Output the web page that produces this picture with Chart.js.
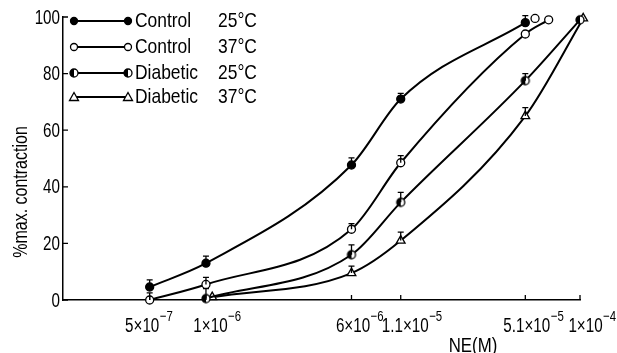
<!DOCTYPE html>
<html>
<head>
<meta charset="utf-8">
<script src="https://cdn.jsdelivr.net/npm/chart.js@4.4.0/dist/chart.umd.min.js"></script>
<style>
  html, body { margin: 0; padding: 0; background: #fff; }
  #wrap { width: 617px; height: 353px; }
</style>
</head>
<body>
<div id="wrap"><canvas id="nePlot" width="617" height="353"></canvas></div>
<script>
// NE concentrations (M) used as x tick positions; labels as mantissa + exponent
const xTickValues = [5e-7, 1e-6, 6e-6, 1.1e-5, 5.1e-5, 1e-4];
const xTickBase = ['5×10', '1×10', '6×10', '1.1×10', '5.1×10', '1×10'];
const xTickExp = ['−7', '−6', '−6', '−5', '−5', '−4'];
const yTickValues = [0, 20, 40, 60, 80, 100];

// Control 25°C (filled circles)
const control25X = [5e-7, 1e-6, 6e-6, 1.1e-5, 5.1e-5];
const control25Y = [4.6, 13, 47.7, 71, 98];
const control25Err = [2.5, 2.5, 2.5, 2, 2.5];

// Control 37°C (open circles)
const control37X = [5e-7, 1e-6, 6e-6, 1.1e-5, 5.1e-5, 6.8e-5];
const control37Y = [0, 5.5, 25, 48.5, 94, 99];
const control37Err = [2.5, 2.5, 2, 2.5, 0, 0];
// lone open circle next to the top control point
const control37ExtraX = [5.75e-5];
const control37ExtraY = [99.5];

// Diabetic 25°C (half filled circles)
const diabetic25X = [1e-6, 6e-6, 1.1e-5, 5.1e-5, 1e-4];
const diabetic25Y = [0.5, 16, 34.5, 77.5, 99];
const diabetic25Err = [3.5, 3.5, 3.5, 2.5, 0];

// Diabetic 37°C (open triangles)
const diabetic37X = [1.08e-6, 6e-6, 1.1e-5, 5.1e-5, 1.04e-4];
const diabetic37Y = [1, 9.5, 21, 65, 99.5];
const diabetic37Err = [0, 2.5, 3, 3, 0];

const FONT = '"Liberation Sans", Arial, sans-serif';
// the scan uses a condensed face, so text is squeezed horizontally
const TICK_SQUEEZE = 0.76;
const TEXT_SQUEEZE = 0.83;
// label shift to the right of each x tick, as in the figure
const xLabelShift = [-1, 11, 8, 11, 8, 12];

// half filled circle marker
function halfCircle(r) {
  const c = document.createElement('canvas');
  const s = r * 2 + 4;
  c.width = s; c.height = s;
  const g = c.getContext('2d');
  const m = s / 2;
  g.fillStyle = '#fff';
  g.beginPath(); g.arc(m, m, r, 0, Math.PI * 2); g.fill();
  g.fillStyle = '#000';
  g.beginPath(); g.arc(m, m, r, Math.PI / 2, Math.PI * 1.5); g.closePath(); g.fill();
  g.strokeStyle = '#000'; g.lineWidth = 1.3;
  g.beginPath(); g.arc(m, m, r, 0, Math.PI * 2); g.stroke();
  return c;
}
const halfMarker = halfCircle(4);

function pts(xs, ys) {
  return xs.map((x, i) => ({ x: x, y: ys[i] }));
}

function series(label, xs, ys, errs, style, fill, radius) {
  return {
    label: label,
    data: pts(xs, ys),
    errors: errs,
    borderColor: '#000',
    borderWidth: 2,
    cubicInterpolationMode: 'monotone',
    pointStyle: style,
    pointRadius: radius,
    pointBackgroundColor: fill,
    pointBorderColor: '#000',
    pointBorderWidth: 1.3,
    clip: false
  };
}

const datasets = [
  series('Control 25°C', control25X, control25Y, control25Err, 'circle', '#000', 4),
  series('Control 37°C', control37X, control37Y, control37Err, 'circle', '#fff', 4),
  series('Diabetic 25°C', diabetic25X, diabetic25Y, diabetic25Err, halfMarker, '#fff', 4),
  series('Diabetic 37°C', diabetic37X, diabetic37Y, diabetic37Err, 'triangle', '#fff', 5),
  Object.assign(series('extra', control37ExtraX, control37ExtraY, [0], 'circle', '#fff', 4), { showLine: false })
];

// error bars (upper half only, I shaped)
const errorBars = {
  id: 'errorBars',
  afterDatasetsDraw(chart) {
    const ctx = chart.ctx;
    const xs = chart.scales.x, ys = chart.scales.y;
    ctx.save();
    ctx.strokeStyle = '#000';
    ctx.lineWidth = 1.3;
    chart.data.datasets.forEach(ds => {
      (ds.errors || []).forEach((e, i) => {
        if (!e) return;
        const p = ds.data[i];
        const px = xs.getPixelForValue(p.x);
        const y0 = ys.getPixelForValue(p.y);
        const y1 = ys.getPixelForValue(p.y + e);
        ctx.beginPath();
        ctx.moveTo(px, y0); ctx.lineTo(px, y1);
        ctx.moveTo(px - 3, y1); ctx.lineTo(px + 3, y1);
        ctx.stroke();
      });
    });
    ctx.restore();
  }
};

function drawMarker(ctx, style, x, y) {
  ctx.lineWidth = 1.3;
  ctx.strokeStyle = '#000';
  if (style === 'filled' || style === 'open') {
    ctx.fillStyle = style === 'filled' ? '#000' : '#fff';
    ctx.beginPath(); ctx.arc(x, y, 3.5, 0, Math.PI * 2); ctx.fill(); ctx.stroke();
  } else if (style === 'half') {
    ctx.drawImage(halfMarker, x - halfMarker.width / 2, y - halfMarker.height / 2);
  } else {
    ctx.fillStyle = '#fff';
    ctx.beginPath();
    ctx.moveTo(x, y - 4.5); ctx.lineTo(x + 4.5, y + 3.5); ctx.lineTo(x - 4.5, y + 3.5);
    ctx.closePath(); ctx.fill(); ctx.stroke();
  }
}

// squeezed text helper
function squeezedText(ctx, text, x, y, align, sq) {
  ctx.save();
  ctx.translate(x, y);
  ctx.scale(sq, 1);
  ctx.textAlign = align;
  ctx.fillText(text, 0, 0);
  ctx.restore();
}

const legendRows = [
  { style: 'filled', name: 'Control', temp: '25°C', y: 21 },
  { style: 'open', name: 'Control', temp: '37°C', y: 47 },
  { style: 'half', name: 'Diabetic', temp: '25°C', y: 73 },
  { style: 'tri', name: 'Diabetic', temp: '37°C', y: 97 }
];

const decorations = {
  id: 'decorations',
  afterDraw(chart) {
    const ctx = chart.ctx;
    const xs = chart.scales.x, ys = chart.scales.y;
    const a = chart.chartArea;
    ctx.save();
    ctx.strokeStyle = '#000';
    ctx.fillStyle = '#000';
    ctx.lineWidth = 1.3;

    // inward tick marks
    ctx.beginPath();
    yTickValues.forEach(v => {
      const py = ys.getPixelForValue(v);
      ctx.moveTo(a.left, py); ctx.lineTo(a.left + 5, py);
    });
    xTickValues.forEach(v => {
      const px = xs.getPixelForValue(v);
      ctx.moveTo(px, a.bottom); ctx.lineTo(px, a.bottom - 5);
    });
    ctx.moveTo(a.right, a.bottom); ctx.lineTo(a.right, a.bottom - 5);
    ctx.stroke();

    // y tick labels
    ctx.font = '20px ' + FONT;
    ctx.textBaseline = 'middle';
    yTickValues.forEach(v => {
      squeezedText(ctx, String(v), a.left - 3, ys.getPixelForValue(v) + 1, 'right', TICK_SQUEEZE);
    });

    // x tick labels with superscript exponents
    ctx.textBaseline = 'alphabetic';
    xTickValues.forEach((v, i) => {
      ctx.font = '20px ' + FONT;
      const wb = ctx.measureText(xTickBase[i]).width * TICK_SQUEEZE;
      ctx.font = '15px ' + FONT;
      const we = ctx.measureText(xTickExp[i]).width * TICK_SQUEEZE;
      const left = xs.getPixelForValue(v) + xLabelShift[i] - (wb + we) / 2;
      ctx.font = '20px ' + FONT;
      squeezedText(ctx, xTickBase[i], left, 332, 'left', TICK_SQUEEZE);
      ctx.font = '15px ' + FONT;
      squeezedText(ctx, xTickExp[i], left + wb + 0.5, 321, 'left', TICK_SQUEEZE);
    });

    // legend
    ctx.font = '21px ' + FONT;
    ctx.textBaseline = 'middle';
    legendRows.forEach(r => {
      ctx.lineWidth = 2;
      ctx.beginPath(); ctx.moveTo(74, r.y); ctx.lineTo(128, r.y); ctx.stroke();
      drawMarker(ctx, r.style, 74, r.y);
      drawMarker(ctx, r.style, 128, r.y);
      ctx.fillStyle = '#000';
      squeezedText(ctx, r.name, 135, r.y, 'left', TEXT_SQUEEZE);
      squeezedText(ctx, r.temp, 218, r.y, 'left', TEXT_SQUEEZE);
    });

    // axis titles
    ctx.font = '21px ' + FONT;
    ctx.textBaseline = 'alphabetic';
    squeezedText(ctx, 'NE(M)', 473, 352, 'center', 0.8);
    ctx.font = '20px ' + FONT;
    ctx.textBaseline = 'middle';
    ctx.translate(21, 192);
    ctx.rotate(-Math.PI / 2);
    squeezedText(ctx, '%max. contraction', 0, 0, 'center', 0.8);
    ctx.restore();
  }
};

new Chart(document.getElementById('nePlot'), {
  type: 'line',
  data: { datasets: datasets },
  options: {
    responsive: false,
    animation: false,
    layout: { padding: { top: 17, right: 37, left: 0, bottom: 0 } },
    plugins: { legend: { display: false }, tooltip: { enabled: false } },
    scales: {
      x: {
        type: 'logarithmic',
        min: 1.72e-7,
        max: 1e-4,
        afterBuildTicks: axis => { axis.ticks = xTickValues.map(v => ({ value: v })); },
        afterFit: axis => { axis.height = 53; },
        grid: { display: false, drawTicks: false },
        border: { display: true, color: '#000', width: 1.5 },
        ticks: { display: false }
      },
      y: {
        min: 0,
        max: 100,
        afterBuildTicks: axis => { axis.ticks = yTickValues.map(v => ({ value: v })); },
        afterFit: axis => { axis.width = 63; },
        grid: { display: false, drawTicks: false },
        border: { display: true, color: '#000', width: 1.5 },
        ticks: { display: false }
      }
    }
  },
  plugins: [errorBars, decorations]
});
</script>
</body>
</html>
